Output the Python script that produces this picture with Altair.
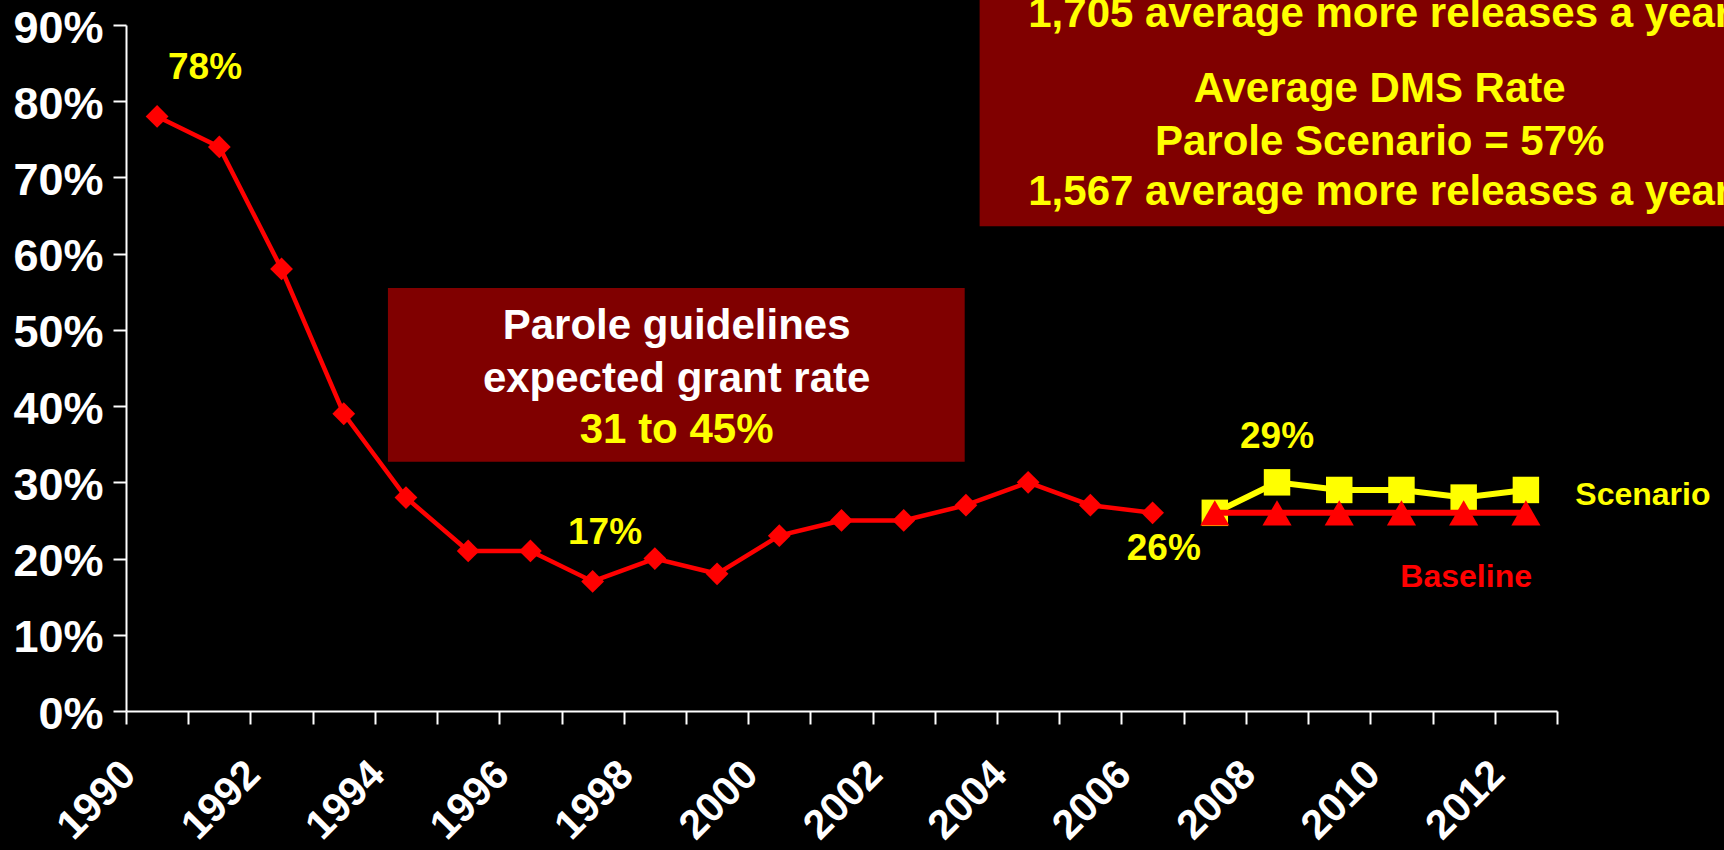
import altair as alt
import pandas as pd

# ---------------- data ----------------
hist_years = list(range(1990, 2007))
hist_rates = [78, 74, 58, 39, 28, 21, 21, 17, 20, 18, 23, 25, 25, 27, 30, 27, 26]

proj_years = [2007, 2008, 2009, 2010, 2011, 2012]
baseline_rates = [26, 26, 26, 26, 26, 26]
scenario_rates = [26, 30, 29, 29, 28, 29]

y_tick_values = [0, 10, 20, 30, 40, 50, 60, 70, 80, 90]
x_tick_edges = [y - 0.5 for y in range(1990, 2014)]

box1_lines = ["Parole guidelines", "expected grant rate", "31 to 45%"]
box2_lines = ["1,705 average more releases a year", "Average DMS Rate",
              "Parole Scenario = 57%", "1,567 average more releases a year"]
point_labels = ["78%", "17%", "26%", "29%"]
series_names = ["Scenario", "Baseline"]

# ---------------- page background (black, no margin) ----------------
try:
    import altair.utils.html as _ah
    _orig_tpl = _ah.TEMPLATES["standard"]

    class _BlackPage:
        def render(self, *args, **kwargs):
            out = _orig_tpl.render(*args, **kwargs)
            return out.replace(
                "<head>",
                "<head>\n<style>html,body{margin:0;padding:0;background:#000;overflow:hidden;}</style>",
                1,
            )

    _ah.TEMPLATES["standard"] = _BlackPage()
except Exception:
    pass

# ---------------- styling ----------------
FONT = "Liberation Sans"
RED = "#FF0000"
YELLOW = "#FFFF00"
BOX = "#800000"

xscale = alt.Scale(domain=[1989.5, 2012.5], nice=False, zero=False)
yscale = alt.Scale(domain=[0, 90], nice=False, zero=True)

x_axis = alt.Axis(
    values=x_tick_edges, title=None, grid=False,
    domainColor="white", domainWidth=2,
    tickColor="white", tickWidth=2, tickSize=13,
    labelExpr="(datum.value + 0.5) % 2 == 0 ? '' + (datum.value + 0.5) : ''",
    labelAngle=315, labelAlign="right", labelBaseline="middle",
    labelOffset=3, labelPadding=44,
    labelFont=FONT, labelFontWeight="bold", labelFontSize=41, labelColor="white",
    labelOverlap=False, labelBound=False, labelFlush=False,
)
y_axis = alt.Axis(
    values=y_tick_values, title=None, grid=False,
    domainColor="white", domainWidth=2,
    tickColor="white", tickWidth=2, tickSize=13,
    labelExpr="datum.value + '%'", labelPadding=10, labelOffset=3,
    labelFont=FONT, labelFontWeight="bold", labelFontSize=45, labelColor="white",
    labelOverlap=False, labelBound=False, labelFlush=False,
)

def X(field="year"):
    return alt.X(f"{field}:Q", scale=xscale, axis=x_axis)

def Y(field="rate"):
    return alt.Y(f"{field}:Q", scale=yscale, axis=y_axis)

hist = pd.DataFrame({"year": hist_years, "rate": hist_rates})
base = pd.DataFrame({"year": proj_years, "rate": baseline_rates})
scen = pd.DataFrame({"year": proj_years, "rate": scenario_rates})

hist_line = alt.Chart(hist).mark_line(color=RED, strokeWidth=4.5).encode(x=X(), y=Y())
hist_pts = alt.Chart(hist).mark_point(shape="diamond", filled=True, size=520,
                                      color=RED, opacity=1).encode(x=X(), y=Y())

scen_line = alt.Chart(scen).mark_line(color=YELLOW, strokeWidth=6).encode(x=X(), y=Y())
scen_pts = alt.Chart(scen).mark_point(shape="square", filled=True, size=700,
                                      color=YELLOW, opacity=1).encode(x=X(), y=Y())
base_line = alt.Chart(base).mark_line(color=RED, strokeWidth=6).encode(x=X(), y=Y())
base_pts = alt.Chart(base).mark_point(shape="triangle-up", filled=True, size=850,
                                      color=RED, opacity=1).encode(x=X(), y=Y())

# ---------------- annotation boxes (data coordinates) ----------------
boxes = pd.DataFrame({
    "x": [1993.71, 2003.22], "x2": [2002.98, 2016.6],
    "y": [55.5, 96.0], "y2": [32.7, 63.6],
})
box_rects = alt.Chart(boxes).mark_rect(color=BOX, clip=False).encode(
    x=X("x"), x2="x2", y=Y("y"), y2="y2")

box1_white = pd.DataFrame({"x": [1998.35, 1998.35], "y": [48.8, 41.9], "t": box1_lines[:2]})
box1_yellow = pd.DataFrame({"x": [1998.35], "y": [35.2], "t": box1_lines[2:]})
box2_text = pd.DataFrame({"x": [2009.65] * 4, "y": [89.7, 79.9, 72.9, 66.4], "t": box2_lines})

def text_layer(df, color, size, baseline="alphabetic"):
    return alt.Chart(df).mark_text(
        font=FONT, fontWeight="bold", fontSize=size, color=color,
        align="center", baseline=baseline, clip=False,
    ).encode(x=X("x"), y=Y("y"), text="t:N")

t_box1w = text_layer(box1_white, "white", 42)
t_box1y = text_layer(box1_yellow, YELLOW, 42)
t_box2 = text_layer(box2_text, YELLOW, 42)

pt_labels = pd.DataFrame({"x": [1990.77, 1997.2, 2006.18, 2008.0],
                          "y": [84.3, 23.3, 21.2, 35.9], "t": point_labels})
t_pts = text_layer(pt_labels, YELLOW, 37, "middle")

scen_name = pd.DataFrame({"x": [2013.88], "y": [28.3], "t": series_names[:1]})
base_name = pd.DataFrame({"x": [2011.04], "y": [17.6], "t": series_names[1:]})
t_scen = text_layer(scen_name, YELLOW, 32, "middle")
t_base = text_layer(base_name, RED, 32, "middle")

chart = alt.layer(
    hist_line, box_rects, hist_pts, scen_line, scen_pts, base_line, base_pts,
    t_box1w, t_box1y, t_box2, t_pts, t_scen, t_base,
).properties(
    width=1431, height=686,
    autosize=alt.AutoSizeParams(type="none"),
    padding={"left": 126, "top": 25, "right": 167, "bottom": 139},
    background="#000000",
).configure_view(strokeWidth=0)

chart.save("out.html", embed_options={"renderer": "svg", "actions": False})
